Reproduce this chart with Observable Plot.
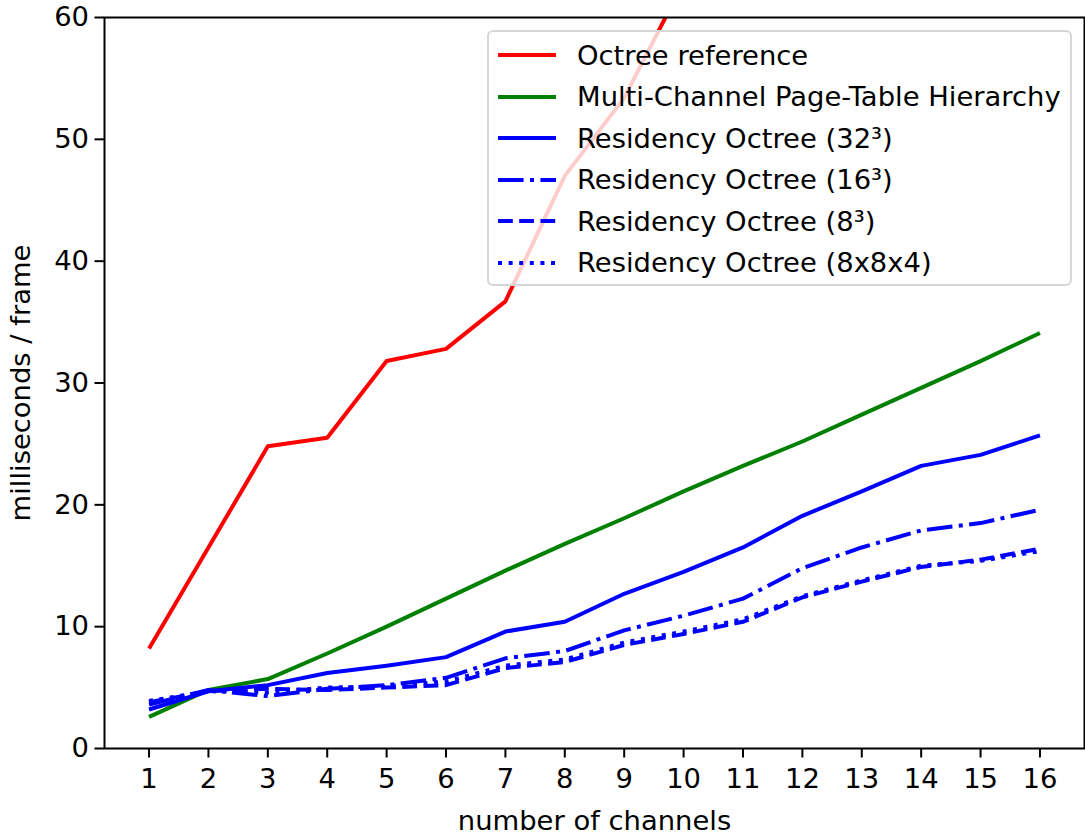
<!DOCTYPE html>
<html>
<head>
<meta charset="utf-8">
<script src="https://cdn.jsdelivr.net/npm/d3@7"></script>
<script src="https://cdn.jsdelivr.net/npm/@observablehq/plot@0.6"></script>
<style>
  body { margin: 0; background: #fff; }
  #wrap { position: relative; width: 1085px; height: 834px; font-family: "DejaVu Sans", sans-serif; }
  #legend { position: absolute; left: 487px; top: 30px; width: 585px; height: 256px; box-sizing: border-box;
            background: rgba(255,255,255,0.8); border: 2px solid #d6d6d6; border-radius: 6px; }
  .row { position: absolute; left: 0; height: 40px; display: flex; align-items: center; }
  .row svg { margin-left: 9px; }
  .row span { margin-left: 21px; font-size: 27.4px; color: #000; white-space: nowrap; }
</style>
</head>
<body>
<div id="wrap"></div>
<script>
// ---- data ----
const channels = [1, 2, 3, 4, 5, 6, 7, 8, 9, 10, 11, 12, 13, 14, 15, 16];
const seriesNames = [
  "Octree reference",
  "Multi-Channel Page-Table Hierarchy",
  "Residency Octree (32³)",
  "Residency Octree (16³)",
  "Residency Octree (8³)",
  "Residency Octree (8x8x4)"
];
// Octree reference leaves the top of the chart after 9 channels (clipped at 60)
const octreeRef   = [8.2, 16.5, 24.8, 25.5, 31.8, 32.8, 36.7, 47.0, 53.4, 62.9];
const pageTable   = [2.6, 4.8, 5.7, 7.8, 10.0, 12.3, 14.6, 16.8, 18.9, 21.1, 23.2, 25.2, 27.4, 29.6, 31.8, 34.1];
const resOct32    = [3.2, 4.7, 5.2, 6.2, 6.8, 7.5, 9.6, 10.4, 12.7, 14.5, 16.5, 19.1, 21.1, 23.2, 24.1, 25.7];
const resOct16    = [3.6, 4.8, 4.3, 4.9, 5.2, 5.8, 7.4, 8.0, 9.7, 10.9, 12.3, 14.8, 16.5, 17.9, 18.5, 19.6];
const resOct8     = [3.8, 4.7, 4.9, 4.8, 5.0, 5.2, 6.6, 7.1, 8.5, 9.4, 10.4, 12.4, 13.7, 14.9, 15.5, 16.4];
const resOct884   = [3.9, 4.7, 4.6, 5.0, 5.1, 5.5, 6.8, 7.3, 8.7, 9.6, 10.6, 12.5, 13.8, 15.0, 15.4, 16.2];
const yTicks = [0, 10, 20, 30, 40, 50, 60];

const seriesValues = [octreeRef, pageTable, resOct32, resOct16, resOct8, resOct884];
const seriesColors = ["#ff0000", "#008000", "#0000ff", "#0000ff", "#0000ff", "#0000ff"];
const seriesDash = ["none", "none", "none", "25.6,6.4,4,6.4", "14.8,6.4", "4,6.6"];

const LW = 4;

const tables = seriesValues.map((vals, i) =>
  vals.map((v, j) => ({x: channels[j], y: v, series: seriesNames[i]})));

const lineMarks = tables.map((t, i) =>
  Plot.line(t, {x: "x", y: "y", stroke: seriesColors[i], strokeWidth: LW,
                strokeDasharray: seriesDash[i] === "none" ? undefined : seriesDash[i],
                strokeLinecap: "butt", strokeLinejoin: "round", clip: true}));

const chart = Plot.plot({
  width: 1085,
  height: 834,
  marginLeft: 104,
  marginRight: 1,
  marginTop: 17,
  marginBottom: 86,
  style: {fontFamily: "DejaVu Sans", fontSize: "27.4px", color: "#000", background: "#fff", overflow: "visible"},
  x: {domain: [0.25, 16.75]},
  y: {domain: [0, 60]},
  marks: [
    ...lineMarks,
    Plot.axisX({ticks: channels, tickFormat: d => String(d), tickSize: 9.5, tickPadding: 11, strokeWidth: 2,
                label: "number of channels", labelAnchor: "center", labelArrow: "none", labelOffset: 81}),
    Plot.axisY({ticks: yTicks, tickFormat: d => String(d), tickSize: 9.5, tickPadding: 6, strokeWidth: 2,
                label: "milliseconds / frame", labelAnchor: "center", labelArrow: "none", labelOffset: 94}),
    Plot.frame({stroke: "#000", strokeWidth: 2})
  ]
});

const wrap = document.getElementById("wrap");
wrap.appendChild(chart);

// legend overlay
const legend = document.createElement("div");
legend.id = "legend";
seriesNames.forEach((name, i) => {
  const row = document.createElement("div");
  row.className = "row";
  row.style.top = (3 + i * 41.5) + "px";
  const dash = seriesDash[i] === "none" ? "" : `stroke-dasharray="${seriesDash[i]}"`;
  row.innerHTML = `<svg width="58" height="10"><line x1="0" y1="5" x2="58" y2="5" stroke="${seriesColors[i]}" stroke-width="${LW}" ${dash}/></svg><span>${name}</span>`;
  legend.appendChild(row);
});
wrap.appendChild(legend);
</script>
</body>
</html>
